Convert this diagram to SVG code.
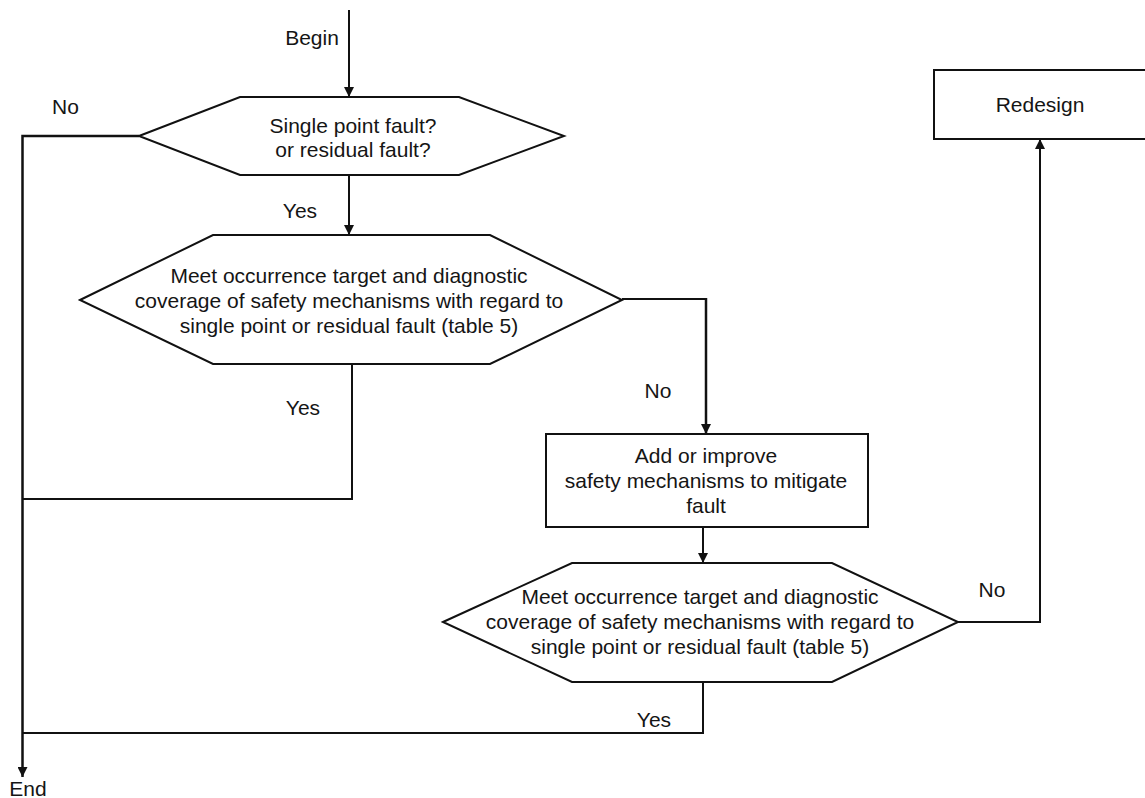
<svg xmlns="http://www.w3.org/2000/svg" width="1145" height="798" viewBox="0 0 1145 798">
  <style>
    .shape { fill: #ffffff; stroke: #111111; stroke-width: 2; stroke-linejoin: miter; }
    .wire { fill: none; stroke: #111111; stroke-width: 2; }
    .wire.heavy { stroke-width: 2.5; }
    .lbl { font-family: "Liberation Sans", Arial, sans-serif; font-size: 21px; fill: #151515; text-anchor: middle; }
  </style>
  <defs>
    <marker id="arrow" viewBox="0 0 10 10" refX="10" refY="5" markerWidth="10" markerHeight="10" markerUnits="userSpaceOnUse" orient="auto">
      <path d="M0,0 L10,5 L0,10 Z" fill="#111111"/>
    </marker>
  </defs>

  <rect width="1145" height="798" fill="#ffffff"/>

  <!-- connectors -->
  <g id="connectors">
    <path class="wire" d="M349,10 V97" marker-end="url(#arrow)"/>
    <path class="wire heavy" d="M139,136 H22.5 V777" marker-end="url(#arrow)"/>
    <path class="wire" d="M349,175 V235" marker-end="url(#arrow)"/>
    <path class="wire" d="M352,364 V499 H22.5"/>
    <path class="wire" d="M622,299 H706"/>
    <path class="wire heavy" d="M706,298 V434" marker-end="url(#arrow)"/>
    <path class="wire" d="M703,527 V563" marker-end="url(#arrow)"/>
    <path class="wire" d="M958,622 H1040 V139" marker-end="url(#arrow)"/>
    <path class="wire" d="M703,682 V733 H22.5"/>
  </g>

  <!-- connector labels -->
  <g id="labels">
    <text class="lbl" x="312" y="45">Begin</text>
    <text class="lbl" x="65.5" y="114">No</text>
    <text class="lbl" x="300" y="218">Yes</text>
    <text class="lbl" x="303" y="415">Yes</text>
    <text class="lbl" x="658" y="398">No</text>
    <text class="lbl" x="992" y="597">No</text>
    <text class="lbl" x="654" y="727">Yes</text>
    <text class="lbl" x="28" y="796">End</text>
  </g>

  <g id="fault-type">
    <polygon class="shape" points="139,136 240,97 459,97 564,136 459,175 240,175"/>
    <text class="lbl" x="353" y="133">Single point fault?</text>
    <text class="lbl" x="353" y="157">or residual fault?</text>
  </g>

  <g id="check-target">
    <polygon class="shape" points="80,300 213,235 490,235 622,300 490,364 213,364"/>
    <text class="lbl" x="349" y="283">Meet occurrence target and diagnostic</text>
    <text class="lbl" x="349" y="308">coverage of safety mechanisms with regard to</text>
    <text class="lbl" x="349" y="333">single point or residual fault (table 5)</text>
  </g>

  <g id="improve">
    <rect class="shape" x="546" y="434" width="322" height="93"/>
    <text class="lbl" x="706" y="463">Add or improve</text>
    <text class="lbl" x="706" y="488">safety mechanisms to mitigate</text>
    <text class="lbl" x="706" y="513">fault</text>
  </g>

  <g id="recheck-target">
    <polygon class="shape" points="443,622 572,563 832,563 958,622 832,682 572,682"/>
    <text class="lbl" x="700" y="604">Meet occurrence target and diagnostic</text>
    <text class="lbl" x="700" y="629">coverage of safety mechanisms with regard to</text>
    <text class="lbl" x="700" y="654">single point or residual fault (table 5)</text>
  </g>

  <g id="redesign">
    <rect class="shape" x="934" y="70" width="230" height="69"/>
    <text class="lbl" x="1040" y="112">Redesign</text>
  </g>
</svg>
